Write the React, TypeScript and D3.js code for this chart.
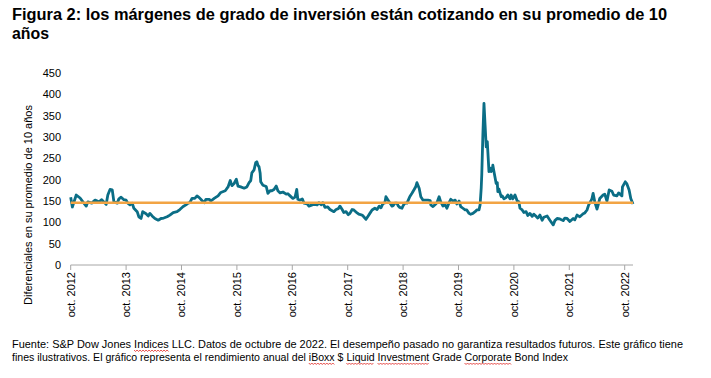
import React, { useEffect, useRef, useState } from "react";
import * as d3 from "d3";

const titleLines = [
  "Figura 2: los márgenes de grado de inversión están cotizando en su promedio de 10",
  "años",
];
const yAxisTitle = "Diferenciales en su promedio de 10 años";
const footerLines = [
  "Fuente: S&P Dow Jones Indices LLC. Datos de octubre de 2022. El desempeño pasado no garantiza resultados futuros. Este gráfico tiene",
  "fines ilustrativos. El gráfico representa el rendimiento anual del iBoxx $ Liquid Investment Grade Corporate Bond Index",
];
// words flagged by the spell checker in the footer: [line, word]
const flaggedWords: [number, string][] = [
  [0, "Indices"],
  [1, "iBoxx"],
  [1, "Liquid"],
  [1, "Investment"],
  [1, "Corporate"],
];

const yTicks = [0, 50, 100, 150, 200, 250, 300, 350, 400, 450];
const xTickYears = [2012, 2013, 2014, 2015, 2016, 2017, 2018, 2019, 2020, 2021, 2022];
const xTickLabels = xTickYears.map((y) => `oct. ${y}`);

const tenYearAverage = 146;

// decimal years
const years = [
  2012.75, 2012.78, 2012.85, 2012.92, 2012.97, 2013.03, 2013.06, 2013.13, 2013.19, 2013.26,
  2013.31, 2013.39, 2013.42, 2013.46, 2013.5, 2013.53, 2013.59, 2013.62, 2013.66, 2013.71,
  2013.75, 2013.78, 2013.82, 2013.86, 2013.89, 2013.95, 2013.98, 2014.02, 2014.05, 2014.11,
  2014.15, 2014.18, 2014.22, 2014.27, 2014.33, 2014.38, 2014.43, 2014.49, 2014.54, 2014.6,
  2014.67, 2014.72, 2014.78, 2014.83, 2014.87, 2014.9, 2014.94, 2014.99, 2015.03, 2015.07,
  2015.12, 2015.16, 2015.19, 2015.25, 2015.28, 2015.34, 2015.41, 2015.46, 2015.54, 2015.59,
  2015.63, 2015.66, 2015.7, 2015.74, 2015.77, 2015.82, 2015.88, 2015.93, 2015.97, 2016.0,
  2016.02, 2016.06, 2016.09, 2016.11, 2016.13, 2016.15, 2016.17, 2016.18, 2016.22, 2016.28,
  2016.31, 2016.35, 2016.38, 2016.42, 2016.46, 2016.49, 2016.53, 2016.58, 2016.64, 2016.67,
  2016.71, 2016.76, 2016.8, 2016.83, 2016.85, 2016.89, 2016.93, 2016.96, 2017.02, 2017.05,
  2017.11, 2017.14, 2017.2, 2017.23, 2017.27, 2017.3, 2017.34, 2017.39, 2017.43, 2017.47,
  2017.5, 2017.54, 2017.58, 2017.61, 2017.65, 2017.68, 2017.72, 2017.76, 2017.79, 2017.83,
  2017.86, 2017.92, 2017.95, 2018.01, 2018.04, 2018.08, 2018.12, 2018.15, 2018.19, 2018.24,
  2018.28, 2018.32, 2018.35, 2018.39, 2018.42, 2018.44, 2018.48, 2018.51, 2018.55, 2018.57,
  2018.6, 2018.64, 2018.66, 2018.69, 2018.73, 2018.75, 2018.78, 2018.82, 2018.84, 2018.87,
  2018.91, 2018.95, 2018.98, 2019.0, 2019.04, 2019.07, 2019.11, 2019.15, 2019.2, 2019.24,
  2019.25, 2019.29, 2019.33, 2019.36, 2019.4, 2019.43, 2019.47, 2019.51, 2019.54, 2019.58,
  2019.61, 2019.65, 2019.69, 2019.72, 2019.76, 2019.79, 2019.83, 2019.87, 2019.9, 2019.94,
  2019.97, 2020.01, 2020.05, 2020.08, 2020.12, 2020.14, 2020.16, 2020.17, 2020.19, 2020.21,
  2020.23, 2020.25, 2020.27, 2020.28, 2020.3, 2020.32, 2020.34, 2020.36, 2020.37, 2020.39,
  2020.43, 2020.45, 2020.46, 2020.48, 2020.52, 2020.54, 2020.57, 2020.61, 2020.64, 2020.68,
  2020.7, 2020.73, 2020.77, 2020.81, 2020.84, 2020.86, 2020.9, 2020.93, 2020.97, 2021.0,
  2021.04, 2021.08, 2021.11, 2021.15, 2021.18, 2021.22, 2021.26, 2021.29, 2021.35, 2021.4,
  2021.46, 2021.49, 2021.53, 2021.58, 2021.64, 2021.67, 2021.71, 2021.76, 2021.82, 2021.85,
  2021.89, 2021.94, 2022.0, 2022.03, 2022.07, 2022.1, 2022.14, 2022.16, 2022.18, 2022.21,
  2022.25, 2022.28, 2022.3, 2022.36, 2022.39, 2022.43, 2022.47, 2022.52, 2022.55, 2022.61,
  2022.64, 2022.7, 2022.71, 2022.76, 2022.79, 2022.83, 2022.86, 2022.9,
];

// spread values (bps)
const spreads = [
  159, 136, 164, 157, 148, 138, 148, 145, 152, 148,
  153, 142, 164, 177, 176, 148, 145, 155, 159, 153,
  152, 145, 141, 145, 133, 125, 113, 109, 125, 120,
  115, 121, 115, 109, 105, 109, 110, 113, 117, 123,
  125, 130, 137, 141, 145, 146, 156, 156, 162, 158,
  151, 146, 154, 154, 150, 156, 162, 170, 174, 183,
  198, 186, 191, 201, 185, 183, 180, 183, 193, 198,
  216, 223, 240, 242, 234, 230, 215, 195, 187, 184,
  168, 174, 174, 177, 185, 174, 169, 171, 166, 167,
  162, 156, 159, 177, 154, 152, 155, 145, 143, 138,
  141, 142, 141, 146, 141, 146, 135, 136, 130, 127,
  125, 130, 132, 138, 130, 123, 125, 118, 121, 130,
  129, 122, 119, 117, 113, 107, 115, 121, 129, 133,
  130, 138, 134, 145, 145, 160, 152, 146, 138, 139,
  145, 145, 139, 135, 133, 139, 145, 145, 151, 160,
  168, 177, 184, 193, 180, 160, 152, 152, 152, 151,
  141, 137, 142, 146, 160, 148, 138, 141, 133, 146,
  154, 150, 152, 143, 150, 137, 133, 129, 129, 121,
  119, 121, 125, 129, 129, 141, 180, 211, 305, 379,
  328, 277, 289, 265, 219, 227, 219, 223, 234, 219,
  191, 193, 172, 178, 160, 162, 155, 158, 164, 155,
  164, 155, 164, 150, 148, 133, 129, 123, 125, 116,
  121, 114, 119, 114, 110, 117, 105, 112, 115, 105,
  94, 104, 109, 108, 104, 110, 109, 102, 109, 106,
  117, 113, 120, 122, 129, 141, 150, 156, 168, 148,
  131, 145, 156, 164, 166, 150, 176, 173, 164, 162,
  169, 162, 183, 195, 190, 176, 156, 143,
];

const W = 711;
const H = 378;
const FONT = "'Liberation Sans Narrow', 'Arial Narrow', 'Liberation Sans', Arial, sans-serif";
const LINE_COLOR = "#0b6e86";
const AVG_COLOR = "#f2a444";
const FOOTER_Y = [348, 361];
const FOOTER_LEN = [671, 556];

function wavy(xa: number, xb: number, yb: number): string {
  const pts: [number, number][] = [];
  let up = true;
  for (let xx = xa; xx <= xb; xx += 1.5) {
    pts.push([xx, yb + (up ? 0 : 1.5)]);
    up = !up;
  }
  return d3.line()(pts) || "";
}

export default function App() {
  const x = d3.scaleLinear().domain([2012.75, 2022.9]).range([70.7, 633]);
  const y = d3.scaleLinear().domain([0, 450]).range([265, 73]);
  const data = years.map((t, i) => ({ t, v: spreads[i] }));
  const line = d3
    .line<{ t: number; v: number }>()
    .x((d) => x(d.t))
    .y((d) => y(d.v));
  const x0 = x.range()[0];
  const x1 = x.range()[1];

  const footerRefs = [useRef<SVGTextElement>(null), useRef<SVGTextElement>(null)];
  const [squiggles, setSquiggles] = useState<string[]>([]);

  useEffect(() => {
    const out: string[] = [];
    flaggedWords.forEach(([li, word]) => {
      const el = footerRefs[li].current;
      if (!el) return;
      const idx = footerLines[li].indexOf(word);
      if (idx < 0) return;
      try {
        const a = el.getStartPositionOfChar(idx).x;
        const b = el.getEndPositionOfChar(idx + word.length - 1).x;
        out.push(wavy(a, b, FOOTER_Y[li] + 2));
      } catch (e) {
        /* ignore */
      }
    });
    setSquiggles(out);
  }, []);

  return (
    <svg width={W} height={H} style={{ position: "absolute", left: 0, top: 0, background: "#fff" }}>
      <rect x={0} y={0} width={W} height={H} fill="#fff" />
      {/* title */}
      <text x={12} y={20} fontFamily={FONT} fontWeight="bold" fontSize={16} fill="#000"
        textLength={655} lengthAdjust="spacingAndGlyphs">
        {titleLines[0]}
      </text>
      <text x={12} y={39} fontFamily={FONT} fontWeight="bold" fontSize={16} fill="#000"
        textLength={37} lengthAdjust="spacingAndGlyphs">
        {titleLines[1]}
      </text>

      {/* y tick labels */}
      {yTicks.map((t) => (
        <text key={t} x={61} y={y(t)} dy="0.35em" textAnchor="end" fontFamily={FONT}
          fontSize={11} fill="#000">
          {t}
        </text>
      ))}

      {/* y axis title */}
      <text transform={`translate(32,205) rotate(-90)`} textAnchor="middle" fontFamily={FONT}
        fontSize={11} fill="#000">
        {yAxisTitle}
      </text>

      {/* x axis */}
      <line x1={x0} x2={x1} y1={y(0)} y2={y(0)} stroke="#a6a6a6" strokeWidth={1} />
      {xTickYears.map((yr, i) => {
        const xp = x(yr + 0.75);
        return (
          <g key={yr}>
            <line x1={xp} x2={xp} y1={y(0)} y2={y(0) + 5} stroke="#a6a6a6" strokeWidth={1} />
            <text transform={`translate(${xp + 4},${y(0) + 7}) rotate(-90)`} textAnchor="end"
              fontFamily={FONT} fontSize={11} fill="#000">
              {xTickLabels[i]}
            </text>
          </g>
        );
      })}

      {/* series */}
      <path d={line(data) || ""} fill="none" stroke={LINE_COLOR} strokeWidth={2.8}
        strokeLinejoin="round" />
      <line x1={x0} x2={x1} y1={y(tenYearAverage)} y2={y(tenYearAverage)} stroke={AVG_COLOR}
        strokeWidth={2.6} />

      {/* footer */}
      {footerLines.map((txt, i) => (
        <text key={i} ref={footerRefs[i]} x={12} y={FOOTER_Y[i]} fontFamily={FONT} fontSize={11}
          fill="#000" textLength={FOOTER_LEN[i]} lengthAdjust="spacingAndGlyphs">
          {txt}
        </text>
      ))}
      {squiggles.map((d, i) => (
        <path key={i} d={d} fill="none" stroke="#e0201c" strokeWidth={0.8} />
      ))}
    </svg>
  );
}
